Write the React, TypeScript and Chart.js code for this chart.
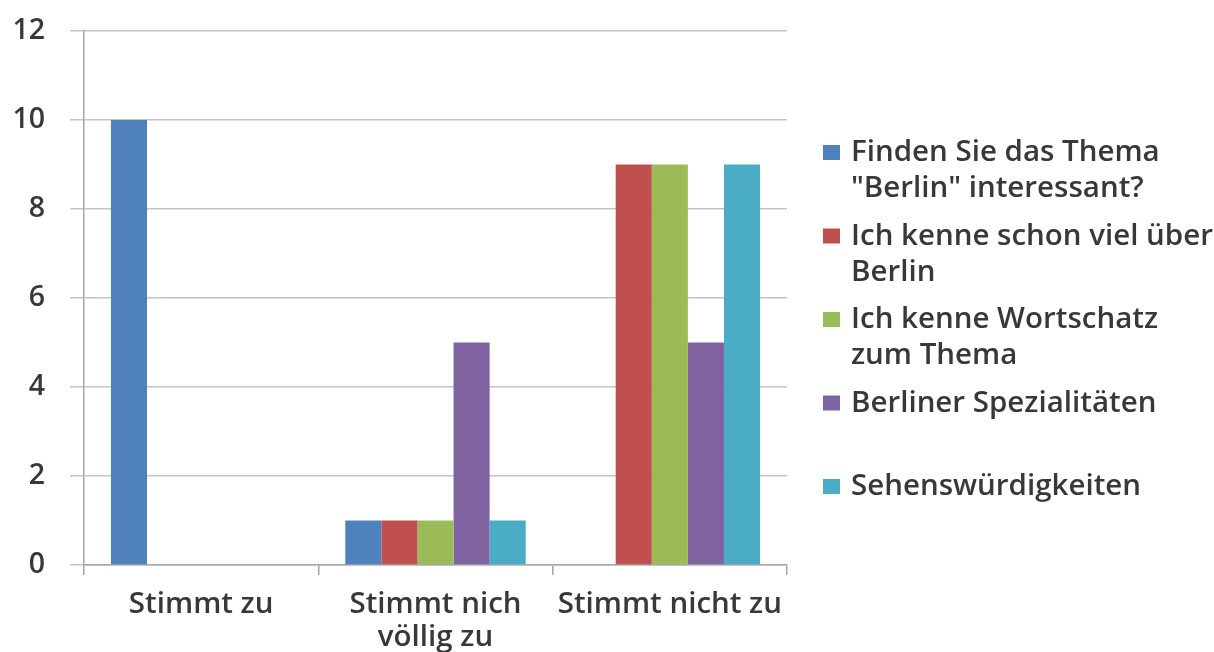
import React, { useEffect, useRef } from "react";
import { Chart, registerables } from "chart.js";

Chart.register(...registerables);

const categories: (string | string[])[] = ["Stimmt zu", ["Stimmt nich", "völlig zu"], "Stimmt nicht zu"];
const yTicks = [0, 2, 4, 6, 8, 10, 12];

const seriesLegendLines: string[][] = [
  ["Finden Sie das Thema", "\"Berlin\" interessant?"],
  ["Ich kenne schon viel über", "Berlin"],
  ["Ich kenne Wortschatz", "zum Thema"],
  ["Berliner Spezialitäten"],
  ["Sehenswürdigkeiten"],
];
const seriesColors = ["#4F81BD", "#C0504D", "#9BBB59", "#8064A2", "#4BACC6"];

const interessant = [10, 1, 0];
const schonViel = [0, 1, 9];
const wortschatz = [0, 1, 9];
const spezialitaeten = [0, 5, 5];
const sehenswuerdigkeiten = [0, 1, 9];
const seriesValues = [interessant, schonViel, wortschatz, spezialitaeten, sehenswuerdigkeiten];

const FONT = "'Open Sans', 'DejaVu Sans', sans-serif";
const TEXT_COLOR = "#383838";
const FONT_SIZE = 29.5;

const legendPlugin = {
  id: "customLegend",
  afterDraw(chart: any) {
    const ctx = chart.ctx;
    ctx.save();
    ctx.font = `600 ${FONT_SIZE}px ${FONT}`;
    ctx.textBaseline = "middle";
    ctx.textAlign = "left";
    chart.data.datasets.forEach((ds: any, i: number) => {
      const y0 = 153 + i * 83.5;
      ctx.fillStyle = ds.backgroundColor;
      ctx.fillRect(823, y0 - 8, 17, 15);
      ctx.fillStyle = TEXT_COLOR;
      (ds.legendLines as string[]).forEach((line, j) => {
        ctx.fillText(line, 851, y0 + j * 36);
      });
    });
    ctx.restore();
  },
};

export default function App() {
  const ref = useRef<HTMLCanvasElement | null>(null);
  useEffect(() => {
    document.body.style.margin = "0";
    const chart = new Chart(ref.current!, {
      type: "bar",
      data: {
        labels: categories,
        datasets: seriesValues.map((vals, i) => ({
          label: seriesLegendLines[i].join(" "),
          legendLines: seriesLegendLines[i],
          data: vals,
          backgroundColor: seriesColors[i],
          borderWidth: 0,
          categoryPercentage: 0.77,
          barPercentage: 1,
        })) as any,
      },
      options: {
        animation: false,
        responsive: false,
        layout: { padding: { left: 0, top: 31, right: 427, bottom: 0 } },
        plugins: { legend: { display: false }, tooltip: { enabled: false } },
        scales: {
          x: {
            grid: {
              display: true,
              offset: true,
              drawOnChartArea: false,
              drawTicks: true,
              tickLength: 10,
              color: "#a6a6a6",
              lineWidth: 1.5,
            },
            border: { display: true, color: "#a6a6a6", width: 1.5 },
            ticks: {
              color: TEXT_COLOR,
              font: { family: FONT, size: FONT_SIZE, weight: "600", lineHeight: 33 / FONT_SIZE },
              padding: 13,
              maxRotation: 0,
              autoSkip: false,
            },
            afterFit(scale: any) {
              scale.height = 652 - 565;
              scale.paddingLeft = 0;
              scale.paddingRight = 0;
            },
          },
          y: {
            min: 0,
            max: 12,
            afterBuildTicks(scale: any) {
              scale.ticks = yTicks.map((v) => ({ value: v }));
            },
            grid: {
              color: "#c4c4c4",
              lineWidth: 1.5,
              tickLength: 14,
              drawTicks: true,
            },
            border: { display: true, color: "#a6a6a6", width: 1.5 },
            ticks: {
              color: TEXT_COLOR,
              font: { family: FONT, size: FONT_SIZE - 1, weight: "600" },
              padding: 25,
            },
            afterFit(scale: any) {
              scale.width = 84;
              scale.paddingTop = 0;
              scale.paddingBottom = 0;
            },
          },
        },
      },
      plugins: [legendPlugin],
    });
    return () => chart.destroy();
  }, []);
  return (
    <div style={{ position: "relative", width: 1214, height: 652, background: "#fff" }}>
      <canvas ref={ref} width={1214} height={652} style={{ display: "block" }} />
    </div>
  );
}
